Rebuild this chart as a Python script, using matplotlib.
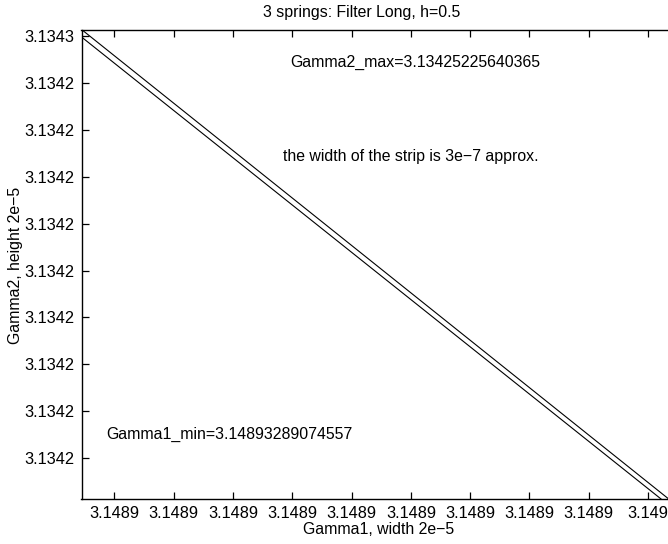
import matplotlib
matplotlib.use("Agg")
import matplotlib.pyplot as plt

plt.rcParams['font.family'] = ['Liberation Sans', 'DejaVu Sans']

# Data
gamma1_min = 3.14893289074557
gamma2_max = 3.13425225640365
width = 2e-5
height = 2e-5

upper_x = [3.14893289, 3.14895289]
upper_y = [3.13425228, 3.13423206]
lower_x = [3.14893289, 3.14895289]
lower_y = [3.13425196, 3.13423180]

x_ticks = [3.148934, 3.148936, 3.148938, 3.148940, 3.148942,
           3.148944, 3.148946, 3.148948, 3.148950, 3.148952]
x_tick_labels = ["3.1489"] * 9 + ["3.149"]
y_ticks = [3.134234, 3.134236, 3.134238, 3.134240, 3.134242,
           3.134244, 3.134246, 3.134248, 3.134250, 3.134252]
y_tick_labels = ["3.1342"] * 9 + ["3.1343"]

W, H = 668, 544
fig = plt.figure(figsize=(W / 100, H / 100), dpi=100)
left, right, top, bottom = 81.5, 674.5, 30, 499
ax = fig.add_axes([left / W, 1 - bottom / H, (right - left) / W, (bottom - top) / H])

ax.plot(upper_x, upper_y, color='black', lw=0.8)
ax.plot(lower_x, lower_y, color='black', lw=0.8)

ax.set_xlim(gamma1_min, gamma1_min + width)
ax.set_ylim(gamma2_max - height, gamma2_max)
ax.set_xticks(x_ticks)
ax.set_xticklabels(x_tick_labels)
ax.set_yticks(y_ticks)
ax.set_yticklabels(y_tick_labels)
tfs = 11.8
fs = 11.4
ax.tick_params(direction='in', length=5, width=0.9, labelsize=tfs, top=True, right=False, pad=5)
ax.spines['right'].set_visible(False)
for s in ax.spines.values():
    s.set_linewidth(1.0)

ax.text(290 / W, 1 - 62 / H, "Gamma2_max=3.13425225640365", transform=fig.transFigure,
        fontsize=fs, va='center', ha='left')
ax.text(283 / W, 1 - 156 / H, "the width of the strip is 3e\u22127 approx.", transform=fig.transFigure,
        fontsize=fs, va='center', ha='left')
ax.text(106 / W, 1 - 434 / H, "Gamma1_min=3.14893289074557", transform=fig.transFigure,
        fontsize=fs, va='center', ha='left')

fig.text(362 / W, 1 - 13 / H, "3 springs: Filter Long, h=0.5", fontsize=fs, ha='center', va='center')
fig.text(379 / W, 1 - 530 / H, "Gamma1, width 2e\u22125", fontsize=fs, ha='center', va='center')
fig.text(16 / W, 1 - 265 / H, "Gamma2, height 2e\u22125", fontsize=fs, ha='center', va='center', rotation=90)

fig.savefig("out.png", dpi=100)
